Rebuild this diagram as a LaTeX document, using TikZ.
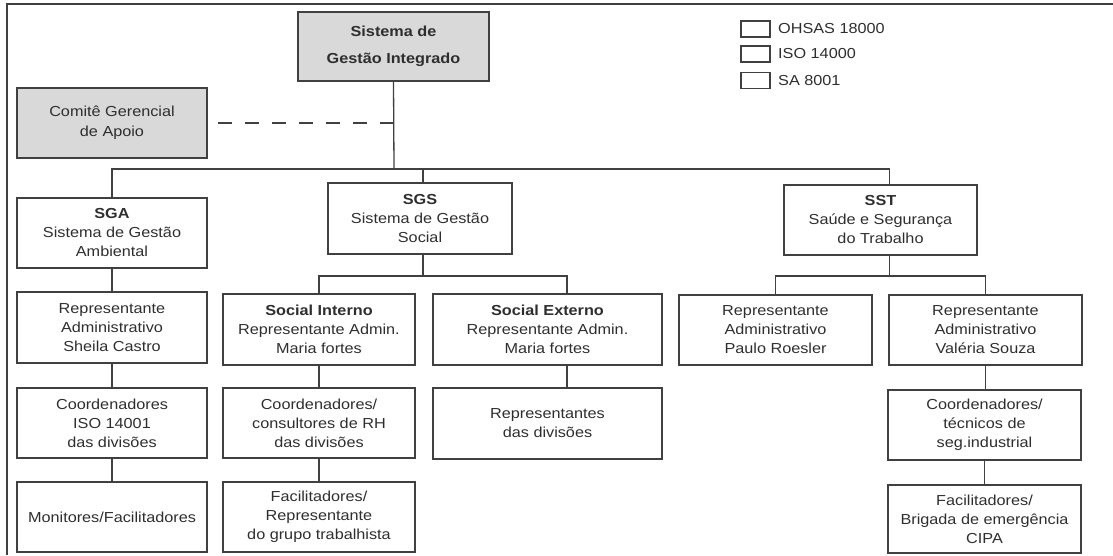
\documentclass[tikz,border=0pt]{standalone}
\usepackage{fontspec}
\setmainfont[FakeStretch=1.12]{Liberation Sans}
\definecolor{linec}{gray}{0.25}
\definecolor{txt}{gray}{0.18}
\definecolor{shade}{gray}{0.85}
\newcommand\boxfont{\fontsize{14.5}{19}\selectfont}
\begin{document}
\begin{tikzpicture}[x=1pt,y=-1pt,
  box/.style={draw=linec, line width=1.4pt, rectangle, align=center, inner sep=0pt,
    font=\boxfont, text=txt, minimum width=190pt, minimum height=70pt},
  greybox/.style={box, fill=shade},
  link/.style={draw=linec, line width=1.3pt},
  keybox/.style={draw=linec, line width=1.1pt, minimum width=29pt, minimum height=16pt, inner sep=0pt},
  keytext/.style={anchor=west, font=\boxfont, text=txt, inner sep=0pt}]
\useasboundingbox (0,0) rectangle (1113,555);
% page frame
\draw[linec, line width=1.4pt] (1113,4) -- (7,4) -- (7,555);

% top level
\node[greybox, minimum width=191pt, minimum height=69pt, font=\fontsize{14.5}{27}\selectfont] (sgi) at (393.5,46.5) {\textbf{Sistema de}\\\textbf{Gestão Integrado}};
\node[greybox, font=\fontsize{14.5}{20}\selectfont] (com) at (112,123) {Comitê Gerencial\\de Apoio};

% legend
\node[keybox] (k1) at (755.5,29) {};
\node[keybox] (k2) at (755.5,54) {};
\node[keybox] (k3) at (755.5,80.5) {};
\node[keytext] (t1) at (778,29) {OHSAS 18000};
\node[keytext] (t2) at (778,54) {ISO 14000};
\node[keytext] (t3) at (778,80.5) {SA 8001};

% second level
\node[box] (sga) at (112,233) {\textbf{SGA}\\Sistema de Gestão\\Ambiental};
\node[box, minimum width=184pt, minimum height=71pt] (sgs) at (420,218.5) {\textbf{SGS}\\Sistema de Gestão\\Social};
\node[box, minimum width=193pt] (sst) at (880.5,220) {\textbf{SST}\\Saúde e Segurança\\do Trabalho};

% third level
\node[box, minimum height=71pt] (rsga) at (112,327.5) {Representante\\Administrativo\\Sheila Castro};
\node[box, minimum width=192pt, minimum height=71pt] (si) at (319,329.5) {\textbf{Social Interno}\\Representante Admin.\\Maria fortes};
\node[box, minimum width=229pt, minimum height=71pt] (se) at (547.5,329.5) {\textbf{Social Externo}\\Representante Admin.\\Maria fortes};
\node[box, minimum width=193pt] (rp) at (775.5,330) {Representante\\Administrativo\\Paulo Roesler};
\node[box, minimum width=193pt] (rv) at (985.5,330) {Representante\\Administrativo\\Valéria Souza};

% fourth level
\node[box] (cga) at (112,423) {Coordenadores\\ISO 14001\\das divisões};
\node[box, minimum width=192pt] (crh) at (319,423) {Coordenadores/\\consultores de RH\\das divisões};
\node[box, minimum width=229pt, minimum height=71pt] (rdv) at (547.5,423.5) {Representantes\\das divisões};
\node[box, minimum width=193pt] (cst) at (984.5,425) {Coordenadores/\\técnicos de\\seg.industrial};

% fifth level
\node[box] (mon) at (112,517) {Monitores/Facilitadores};
\node[box, minimum width=192pt] (fac) at (319,517) {Facilitadores/\\Representante\\do grupo trabalhista};
\node[box, minimum width=193pt, minimum height=68pt] (brg) at (984.5,519) {Facilitadores/\\Brigada de emergência\\CIPA};

% bus coordinates
\coordinate (bus) at (394,169);
\coordinate (sgsx) at (423,0);
\coordinate (sstx) at (889.5,0);
\coordinate (bus2) at (423,276);
\coordinate (bus3) at (889.5,276);
\coordinate (sex) at (567,0);

% connectors from the integrated system
\draw[link] (sgi.south) -- (bus);
\draw[link] (sga.north) |- (bus) -| (sst.north -| sstx);
\draw[link] (bus -| sgsx) -- (sgs.north -| sgsx);
\draw[link, dash pattern=on 14pt off 13pt] (com.east -| sgi.south) -- (com.east);

% SGA branch
\draw[link] (sga.south) -- (rsga.north);
\draw[link] (rsga.south) -- (cga.north);
\draw[link] (cga.south) -- (mon.north);

% SGS branch
\draw[link] (sgs.south -| sgsx) -- (bus2);
\draw[link] (si.north) |- (bus2) -| (se.north -| sex);
\draw[link] (si.south) -- (crh.north);
\draw[link] (crh.south) -- (fac.north);
\draw[link] (se.south -| sex) -- (rdv.north -| sex);

% SST branch
\draw[link] (sst.south -| sstx) -- (bus3);
\draw[link] (rp.north) |- (bus3) -| (rv.north);
\draw[link] (rv.south) -- (cst.north -| rv.south);
\draw[link] (cst.south) -- (brg.north);
\end{tikzpicture}
\end{document}
